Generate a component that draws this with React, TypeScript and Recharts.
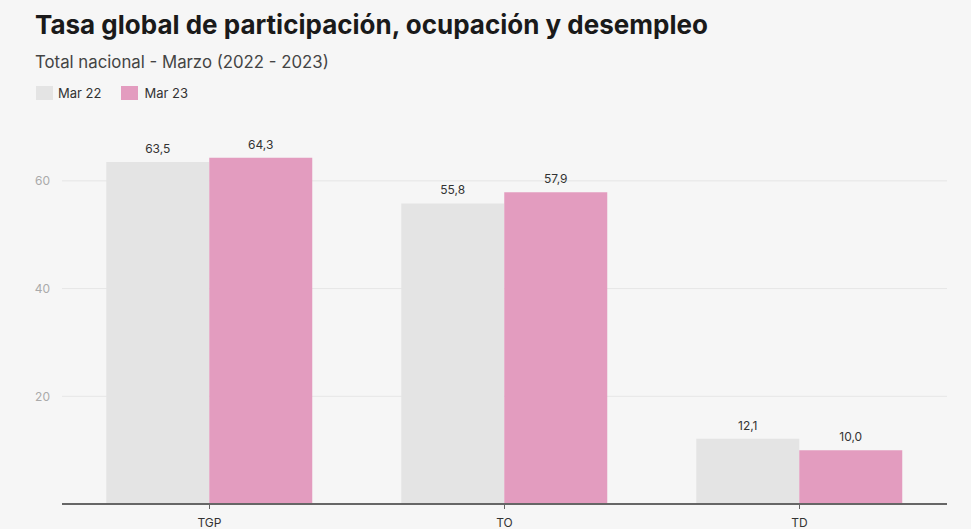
import { BarChart, Bar, XAxis, YAxis, CartesianGrid, LabelList } from 'recharts';

const categories = ['TGP', 'TO', 'TD'];
const mar22 = [63.5, 55.8, 12.1];
const mar23 = [64.3, 57.9, 10.0];
const yTicks = [20, 40, 60];

const GRAY = '#e4e4e4';
const PINK = '#e39cbf';
const FONT = 'Inter, Roboto, sans-serif';

const data = categories.map((name, i) => ({ name, mar22: mar22[i], mar23: mar23[i] }));

const fmt = (v: number) => v.toFixed(1).replace('.', ',');

export default function App() {
  return (
    <div
      style={{
        position: 'absolute',
        left: 0,
        top: 0,
        width: 971,
        height: 529,
        background: '#f6f6f6',
        fontFamily: FONT,
        overflow: 'hidden',
      }}
    >
      <BarChart
        width={971}
        height={529}
        data={data}
        margin={{ top: 127, right: 24, left: 0, bottom: 0 }}
        barCategoryGap="15%"
        barGap={0}
      >
        <CartesianGrid vertical={false} stroke="#e6e6e6" horizontalValues={yTicks} />
        <XAxis
          dataKey="name"
          height={25}
          axisLine={{ stroke: '#666', strokeWidth: 2 }}
          tickLine={{ stroke: '#666' }}
          tickSize={5}
          tickMargin={9}
          tick={{ fontSize: 12, fill: '#333', fontFamily: FONT }}
        />
        <YAxis
          width={62}
          domain={[0, 70]}
          ticks={yTicks}
          axisLine={false}
          tickLine={false}
          tickMargin={6}
          tick={{ fontSize: 12, fill: '#aaa', fontFamily: FONT }}
        />
        <Bar dataKey="mar22" fill={GRAY} isAnimationActive={false}>
          <LabelList dataKey="mar22" position="top" offset={9} formatter={fmt} style={{ fontSize: 12, fill: '#333', fontFamily: FONT }} />
        </Bar>
        <Bar dataKey="mar23" fill={PINK} isAnimationActive={false}>
          <LabelList dataKey="mar23" position="top" offset={9} formatter={fmt} style={{ fontSize: 12, fill: '#333', fontFamily: FONT }} />
        </Bar>
      </BarChart>

      <div style={{ position: 'absolute', left: 35, top: 9, fontSize: 26, fontWeight: 700, color: '#1a1a1a', lineHeight: '32px' }}>
        Tasa global de participación, ocupación y desempleo
      </div>
      <div style={{ position: 'absolute', left: 35, top: 52, fontSize: 16.8, color: '#444', lineHeight: '20px' }}>
        Total nacional - Marzo (2022 - 2023)
      </div>
      <div style={{ position: 'absolute', left: 36, top: 85, display: 'flex', alignItems: 'center', fontSize: 13, color: '#333' }}>
        <span style={{ width: 17, height: 14, background: GRAY, display: 'inline-block', marginRight: 5 }} />
        <span style={{ marginRight: 20 }}>Mar 22</span>
        <span style={{ width: 17, height: 14, background: PINK, display: 'inline-block', marginRight: 6 }} />
        <span>Mar 23</span>
      </div>
    </div>
  );
}
